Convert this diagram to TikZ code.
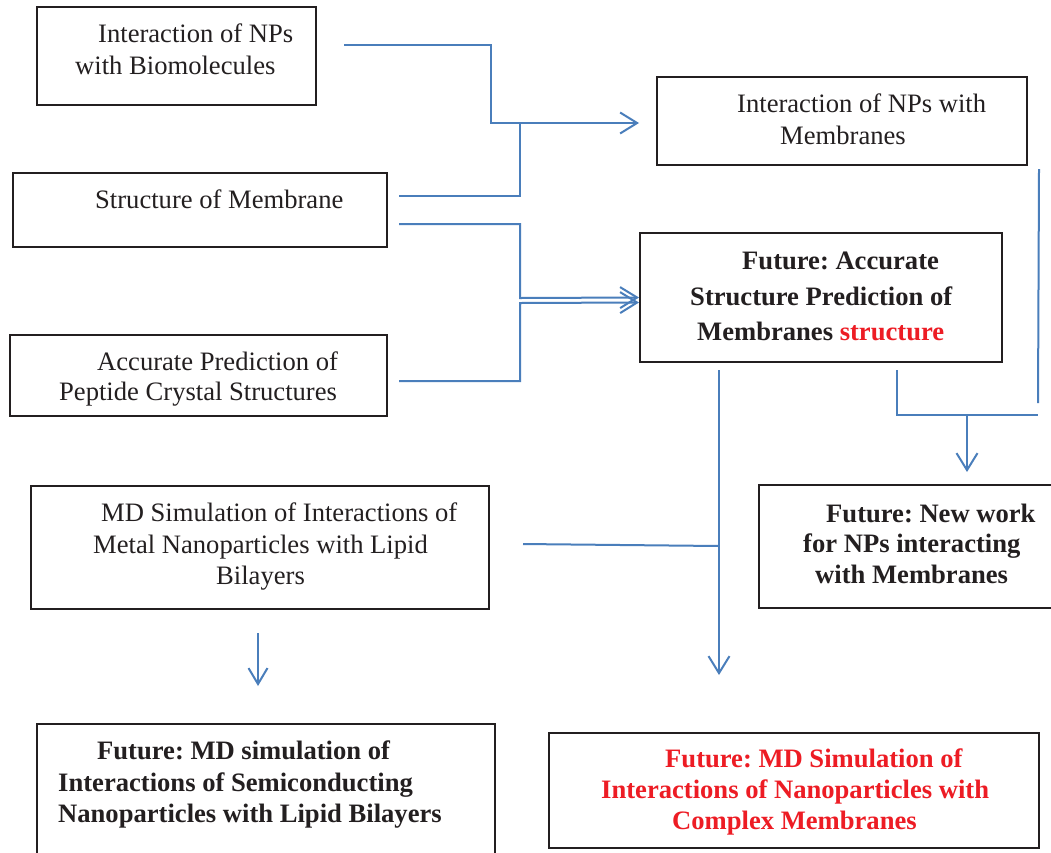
\documentclass[tikz,border=0pt]{standalone}
\usepackage{fontspec}
\setmainfont{Liberation Serif}
\usetikzlibrary{arrows.meta}
\definecolor{connblue}{HTML}{4A7EBB}
\definecolor{ink}{HTML}{231F20}
\definecolor{redtxt}{HTML}{ED1C24}
\frenchspacing
\tikzset{
  box/.style={draw=ink, line width=2pt, inner sep=0pt},
  txt/.style={inner sep=0pt, anchor=west, align=left, text=ink, font=\fontsize{26.6}{31.5}\selectfont},
  link/.style={draw=connblue, line width=2pt},
  arr/.style={link, -{Straight Barb[length=17pt,width=21pt]}}
}
\begin{document}
\frenchspacing
\begin{tikzpicture}[x=1pt,y=-1pt]
\useasboundingbox (0,0) rectangle (1051,852);
\fill[white] (0,0) rectangle (1051,852);
\clip (0,0) rectangle (1051,852);
% boxes
\node[box, minimum width=279pt, minimum height=98pt] (a) at (176.5,56) {};
\node[box, minimum width=370pt, minimum height=88pt] (b) at (842,121) {};
\node[box, minimum width=374pt, minimum height=74pt] (c) at (200,210) {};
\node[box, minimum width=362pt, minimum height=129pt] (d) at (821,297.5) {};
\node[box, minimum width=377pt, minimum height=81pt] (e) at (198.5,375.5) {};
\node[box, minimum width=458pt, minimum height=123pt] (f) at (260,547.5) {};
\node[box, minimum width=304pt, minimum height=123pt] (g) at (911,546.5) {};
\node[box, minimum width=458pt, minimum height=156pt] (h) at (266,802) {};
\node[box, minimum width=490pt, minimum height=115pt] (i) at (794,790.5) {};
% texts
\node[txt] (ta) at (75,49.5) {\hspace*{23pt}Interaction of NPs\\with Biomolecules};
\node[txt] (tb) at (737,119.5) {Interaction of NPs with\\\hspace*{43pt}Membranes};
\node[txt] (tc) at (95,199.5) {Structure of Membrane};
\node[txt, font=\fontsize{26.6}{35.5}\selectfont\bfseries] (td) at (690,296.5)
  {\hspace*{52pt}Future: Accurate\\Structure Prediction of\\\hspace*{7pt}Membranes \textcolor{redtxt}{structure}};
\node[txt, font=\fontsize{26.6}{30}\selectfont] (te) at (59,379) {\hspace*{38pt}Accurate Prediction of\\Peptide Crystal Structures};
\node[txt] (tf) at (93,546.5) {\hspace*{8pt}MD Simulation of Interactions of\\Metal Nanoparticles with Lipid\\\hspace*{123pt}Bilayers};
\node[txt, font=\fontsize{26.6}{30.5}\selectfont\bfseries] (tg) at (803,543.5)
  {\hspace*{23pt}Future: New work\\for NPs interacting\\\hspace*{12pt}with Membranes};
\node[txt, font=\fontsize{26.6}{31.5}\selectfont\bfseries] (th) at (58,784.5)
  {\hspace*{39pt}Future: MD simulation of\\Interactions of Semiconducting\\Nanoparticles with Lipid Bilayers};
\node[txt, text=redtxt, font=\fontsize{26.6}{31}\selectfont\bfseries] (ti) at (601,792)
  {\hspace*{64pt}Future: MD Simulation of\\Interactions of Nanoparticles with\\\hspace*{71pt}Complex Membranes};
% connector ends
\coordinate (a-out) at (344,45);
\coordinate (c-out1) at (399,196);
\coordinate (c-out2) at (399,224);
\coordinate (e-out) at (399,381);
\coordinate (b-tail) at (1038,403);
\coordinate (d-out1) at (719,370);
\coordinate (d-out2) at (897,370);
\coordinate (g-in) at (967,472);
\coordinate (i-in) at (719,675);
\coordinate (f-out) at (523,544);
\coordinate (f-arr) at (258,633);
\coordinate (h-in) at (258,686);
% connectors
\draw[arr] (a-out) -| (491,123) -- ([xshift=-17pt,yshift=-2pt]b.west);
\draw[link] (c-out1) -| (520,123);
\draw[arr] (c-out2) -| (520,298) -- (d.west);
\draw[arr] (e-out) -| (520,303) -- ([yshift=-5pt]d.west);
\draw[link] ([xshift=11pt,yshift=-3pt]b.south east) -- (b-tail);
\draw[link] (d-out2) |- (1038,415);
\draw[arr] (g-in |- 0,415) -- (g-in);
\draw[arr] (d-out1) -- (i-in);
\draw[link] (f-out) -- (719,546);
\draw[link, -{Straight Barb[length=16pt,width=19pt]}] (f-arr) -- (h-in);
\end{tikzpicture}
\end{document}
